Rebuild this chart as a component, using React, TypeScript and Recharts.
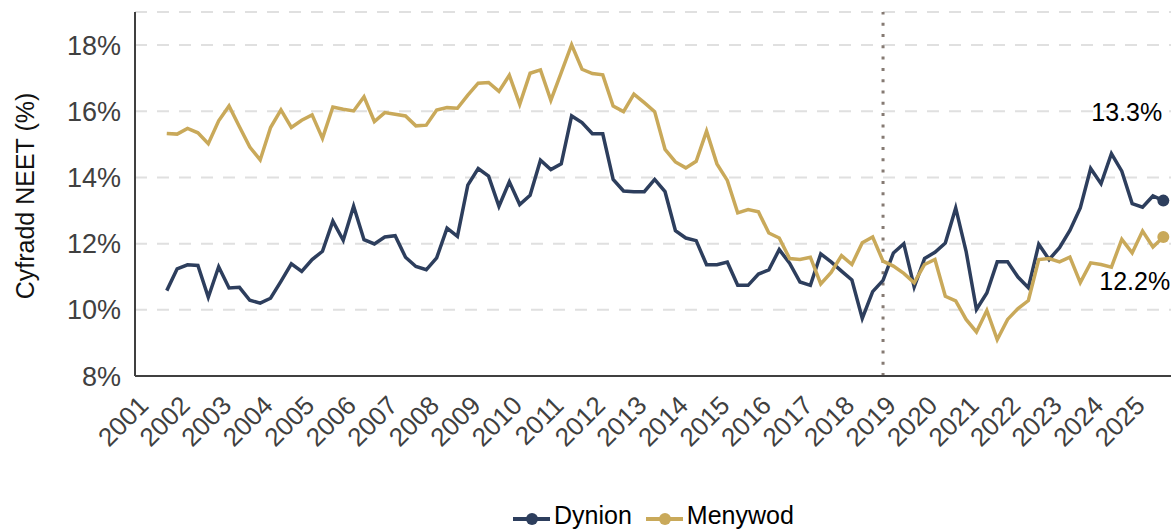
import { LineChart, Line, XAxis, YAxis, CartesianGrid, ReferenceLine } from "recharts"

// quarterly series, Jul-Sep 2001 .. Jul-Sep 2025
const firstYear = 2001
const firstQuarter = 3

const dynion = [
  10.58, 11.24, 11.36, 11.34, 10.38, 11.3, 10.66, 10.68, 10.29, 10.2,
  10.35, 10.86, 11.39, 11.16, 11.52, 11.77, 12.68, 12.1, 13.13, 12.12,
  11.99, 12.2, 12.24, 11.59, 11.31, 11.21, 11.57, 12.47, 12.22, 13.77,
  14.27, 14.04, 13.13, 13.87, 13.18, 13.46, 14.52, 14.24, 14.41, 15.86,
  15.66, 15.32, 15.32, 13.94, 13.59, 13.57, 13.57, 13.94, 13.57, 12.39,
  12.17, 12.09, 11.36, 11.36, 11.44, 10.74, 10.74, 11.08, 11.21, 11.82,
  11.41, 10.84, 10.74, 11.69, 11.45, 11.17, 10.9, 9.74, 10.55, 10.89,
  11.72, 12.0, 10.69, 11.55, 11.74, 12.02, 13.08, 11.77, 10.01, 10.51,
  11.45, 11.45, 10.99, 10.67, 11.98, 11.52, 11.88, 12.4, 13.08, 14.27,
  13.81, 14.72, 14.19, 13.21, 13.1, 13.44, 13.3,
]

const menywod = [
  15.33, 15.31, 15.48, 15.35, 15.02, 15.71, 16.16, 15.53, 14.92, 14.53,
  15.51, 16.04, 15.51, 15.73, 15.89, 15.18, 16.13, 16.06, 16.01, 16.44,
  15.69, 15.96, 15.91, 15.86, 15.56, 15.58, 16.04, 16.11, 16.09, 16.49,
  16.85, 16.87, 16.6, 17.09, 16.21, 17.15, 17.25, 16.33, 17.17, 18.01,
  17.27, 17.14, 17.1, 16.16, 15.99, 16.52, 16.26, 15.99, 14.85, 14.47,
  14.29, 14.49, 15.4, 14.41, 13.91, 12.93, 13.03, 12.96, 12.32, 12.17,
  11.55, 11.52, 11.59, 10.78, 11.13, 11.64, 11.37, 12.03, 12.2, 11.47,
  11.32, 11.1, 10.82, 11.37, 11.52, 10.41, 10.27, 9.71, 9.33, 9.98,
  9.1, 9.71, 10.04, 10.28, 11.52, 11.55, 11.45, 11.59, 10.82, 11.42,
  11.37, 11.29, 12.13, 11.72, 12.38, 11.9, 12.2,
]

const years = [
  2001, 2002, 2003, 2004, 2005, 2006, 2007, 2008, 2009, 2010, 2011, 2012, 2013,
  2014, 2015, 2016, 2017, 2018, 2019, 2020, 2021, 2022, 2023, 2024, 2025,
]
const yTicks = [8, 10, 12, 14, 16, 18]

// dotted marker: Oct-Dec 2018
const breakYear = 2018
const breakQuarter = 4

const NAVY = "#2d3e5d"
const GOLD = "#c9a95a"
const FONT = "'Liberation Sans', Arial, sans-serif"

const data = dynion.map((v, i) => {
  const q = firstQuarter - 1 + i
  const year = firstYear + Math.floor(q / 4)
  const quarter = (q % 4) + 1
  return { t: year + (quarter - 1) / 4, period: `${year} Q${quarter}`, dynion: v, menywod: menywod[i] }
})
const lastIndex = data.length - 1

function YearTick({ x, y, payload }: any) {
  const tx = x + 4
  const ty = y + 23
  return (
    <text x={tx} y={ty} transform={`rotate(-45 ${tx} ${ty})`} textAnchor="end" fontSize={26} fill="#404040" fontFamily={FONT}>
      {payload.value}
    </text>
  )
}

const endDot = (color: string) => (props: any) => {
  const { cx, cy, index } = props
  if (index !== lastIndex) return <g key={`d-${index}`} />
  return <circle key={`d-${index}`} cx={cx} cy={cy} r={6} fill={color} />
}

const endLabel = (dx: number, dy: number) => (props: any) => {
  const { x, y, index, value } = props
  if (index !== lastIndex) return null
  return (
    <text x={x + dx} y={y + dy} dominantBaseline="central" fontSize={25} fill="#000" fontFamily={FONT}>
      {`${Number(value).toFixed(1)}%`}
    </text>
  )
}

function LegendItem({ color, label }: { color: string; label: string }) {
  return (
    <div style={{ display: "flex", alignItems: "center", marginRight: 14 }}>
      <svg width={37} height={14} style={{ marginRight: 4, marginTop: 8 }}>
        <line x1={0} y1={7} x2={37} y2={7} stroke={color} strokeWidth={4} />
        <circle cx={19} cy={7} r={6} fill={color} />
      </svg>
      <span>{label}</span>
    </div>
  )
}

export default function App() {
  return (
    <div style={{ position: "absolute", left: 0, top: 0, width: 1171, height: 531, overflow: "hidden", background: "#fff" }}>
      <LineChart width={1171} height={531} data={data} margin={{ top: 12, right: 0, left: 0, bottom: 95 }}>
        <CartesianGrid vertical={false} stroke="#e0e0e0" strokeWidth={2} strokeDasharray="12 10" />
        <XAxis
          dataKey="t"
          type="number"
          domain={[2000.735, 2025.685]}
          ticks={years}
          interval={0}
          allowDataOverflow
          height={60}
          axisLine={{ stroke: "#404040", strokeWidth: 2 }}
          tickLine={false}
          tick={<YearTick />}
        />
        <YAxis
          type="number"
          domain={[8, 19]}
          ticks={yTicks}
          width={135}
          axisLine={{ stroke: "#404040", strokeWidth: 2 }}
          tickLine={false}
          tickSize={6}
          tickMargin={8}
          tickFormatter={(v) => `${v}%`}
          tick={{ fontSize: 27, fill: "#404040", fontFamily: FONT }}
          label={{
            content: () => (
              <text x={25} y={196} transform="rotate(-90 25 196)" textAnchor="middle" dominantBaseline="central" fontSize={25} fill="#111" fontFamily={FONT}>
                Cyfradd NEET (%)
              </text>
            ),
          }}
        />
        <ReferenceLine x={breakYear + (breakQuarter - 1) / 4} stroke="#857a73" strokeWidth={3} strokeDasharray="3 8.3" />
        <Line
          type="linear"
          dataKey="dynion"
          name="Dynion"
          stroke={NAVY}
          strokeWidth={3.5}
          dot={endDot(NAVY)}
          activeDot={false}
          label={endLabel(-72, -89)}
          isAnimationActive={false}
        />
        <Line
          type="linear"
          dataKey="menywod"
          name="Menywod"
          stroke={GOLD}
          strokeWidth={3.5}
          dot={endDot(GOLD)}
          activeDot={false}
          label={endLabel(-64, 44)}
          isAnimationActive={false}
        />
      </LineChart>
      <div
        style={{
          position: "absolute",
          left: 513,
          top: 500,
          display: "flex",
          fontFamily: FONT,
          fontSize: 25,
          lineHeight: "30px",
          color: "#000",
          whiteSpace: "nowrap",
        }}
      >
        <LegendItem color={NAVY} label="Dynion" />
        <LegendItem color={GOLD} label="Menywod" />
      </div>
    </div>
  )
}
